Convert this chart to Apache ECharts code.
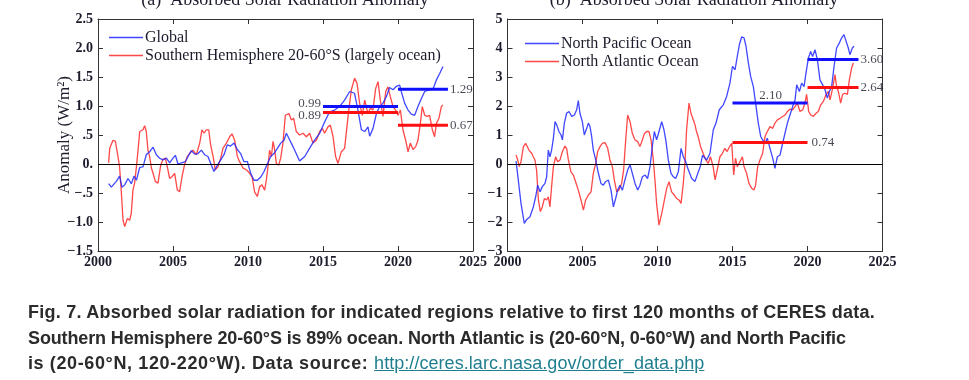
<!DOCTYPE html>
<html>
<head>
<meta charset="utf-8">
<script src="https://cdn.jsdelivr.net/npm/echarts@6/dist/echarts.min.js"></script>
<style>
  html, body { margin: 0; padding: 0; background: #ffffff; }
  #chart { position: absolute; left: 0; top: 0; width: 969px; height: 380px; }
  #caption {
    position: absolute; left: 28px; top: 300px; width: 940px;
    font-family: "Liberation Sans", Arial, sans-serif; font-weight: bold;
    font-size: 18px; line-height: 25.5px; color: #2b2b2b; white-space: nowrap;
  }
  #caption .l1 { letter-spacing: 0.25px; }
  #caption .l2 { letter-spacing: -0.13px; }
  #caption .l3 { letter-spacing: 0.62px; }
  #caption a { color: #1f7f8f; font-weight: normal; text-decoration: underline; letter-spacing: 0.05px; }
</style>
</head>
<body>
<div id="chart"></div>
<div id="caption"><span class="l1">Fig. 7. Absorbed solar radiation for indicated regions relative to first 120 months of CERES data.</span><br><span class="l2">Southern Hemisphere 20-60°S is 89% ocean. North Atlantic is (20-60°N, 0-60°W) and North Pacific</span><br><span class="l3">is (20-60°N, 120-220°W). Data source: </span><a href="#">http://ceres.larc.nasa.gov/order_data.php</a></div>
<script>
// ---------------- DATA ----------------
const panelTitles = ['(a)  Absorbed Solar Radiation Anomaly', '(b)  Absorbed Solar Radiation Anomaly'];
const seriesNamesA = ['Global', 'Southern Hemisphere 20-60°S (largely ocean)'];
const seriesNamesB = ['North Pacific Ocean', 'North Atlantic Ocean'];
const yAxisTitle = 'Anomaly (W/m²)';

const xTickLabels = ['2000', '2005', '2010', '2015', '2020', '2025'];
const aYTickLabels = ['\u22121.5', '\u22121.0', '\u2212.5', '0.', '.5', '1.0', '1.5', '2.0', '2.5'];
const bYTickLabels = ['\u22123', '\u22122', '\u22121', '0', '1', '2', '3', '4', '5'];

// Panel (a) Global
const globalYears = [2000.71,2000.89,2001.22,2001.44,2001.6,2001.78,2002.0,2002.22,2002.4,2002.56,2002.78,2003.0,2003.22,2003.44,2003.67,2003.89,2004.11,2004.33,2004.56,2004.78,2005.0,2005.16,2005.33,2005.56,2005.82,2006.0,2006.22,2006.44,2006.67,2006.89,2007.11,2007.33,2007.56,2007.73,2007.96,2008.18,2008.4,2008.62,2008.84,2009.07,2009.29,2009.51,2009.73,2009.96,2010.18,2010.4,2010.62,2010.84,2011.07,2011.29,2011.51,2011.73,2011.96,2012.18,2012.4,2012.56,2013.0,2013.44,2013.78,2014.1,2014.44,2014.78,2015.1,2015.44,2015.78,2016.1,2016.44,2016.78,2017.1,2017.33,2017.56,2017.78,2018.0,2018.11,2018.33,2018.56,2018.78,2019.0,2019.22,2019.44,2019.67,2019.89,2020.11,2020.22,2020.44,2020.67,2020.89,2021.11,2021.33,2021.56,2021.78,2022.11,2022.33,2022.56,2022.78,2023.0];
const globalVals = [-0.34,-0.40,-0.30,-0.21,-0.40,-0.36,-0.25,-0.34,-0.21,-0.28,-0.06,-0.05,0.16,0.21,0.29,0.16,0.10,0.07,0.10,0.02,0.10,0.15,0.0,0.02,0.04,0.13,0.23,0.17,0.18,0.24,0.16,0.13,-0.02,-0.13,-0.02,0.07,0.16,0.33,0.31,0.36,0.25,0.18,0.04,0.04,-0.16,-0.28,-0.28,-0.23,-0.13,0.0,0.13,0.18,0.27,0.36,0.41,0.53,0.30,0.05,0.13,0.27,0.41,0.53,0.72,0.90,0.93,0.99,1.10,1.25,1.22,0.93,0.59,0.56,0.64,0.48,0.61,0.87,0.99,1.05,1.16,1.32,1.28,1.34,1.36,1.25,1.05,0.93,0.86,0.84,0.99,1.13,1.25,1.28,1.29,1.45,1.56,1.68];

// Panel (a) Southern Hemisphere 20-60S
const shYears = [2000.71,2000.78,2001.0,2001.16,2001.33,2001.44,2001.56,2001.67,2001.78,2001.96,2002.11,2002.22,2002.33,2002.44,2002.56,2002.67,2002.78,2003.0,2003.11,2003.22,2003.33,2003.44,2003.56,2003.67,2003.82,2004.0,2004.18,2004.33,2004.49,2004.62,2004.78,2004.93,2005.11,2005.29,2005.44,2005.6,2005.78,2005.96,2006.11,2006.33,2006.56,2006.78,2006.93,2007.07,2007.22,2007.38,2007.51,2007.67,2007.82,2008.0,2008.18,2008.33,2008.56,2008.78,2008.93,2009.11,2009.29,2009.44,2009.67,2009.89,2010.11,2010.27,2010.44,2010.62,2010.78,2010.93,2011.11,2011.22,2011.33,2011.44,2011.56,2011.67,2011.78,2011.89,2012.04,2012.18,2012.33,2012.49,2012.73,2012.89,2013.04,2013.22,2013.44,2013.67,2013.89,2014.11,2014.33,2014.56,2014.78,2014.96,2015.11,2015.33,2015.49,2015.67,2015.84,2016.0,2016.22,2016.44,2016.67,2016.89,2017.11,2017.27,2017.44,2017.62,2017.78,2018.0,2018.16,2018.33,2018.51,2018.67,2018.82,2019.0,2019.18,2019.33,2019.49,2019.67,2019.84,2020.0,2020.16,2020.33,2020.51,2020.67,2020.82,2021.0,2021.18,2021.33,2021.49,2021.62,2021.78,2021.93,2022.11,2022.29,2022.44,2022.56,2022.73,2022.89,2023.0];
const shVals = [0.02,0.27,0.41,0.39,0.13,-0.05,-0.51,-0.97,-1.08,-0.94,-0.97,-0.85,-0.45,-0.33,-0.05,0.24,0.56,0.59,0.66,0.56,0.24,0.13,-0.07,-0.16,-0.30,-0.33,-0.02,0.08,0.10,-0.05,-0.25,-0.22,-0.16,-0.45,-0.48,-0.22,0.0,0.13,0.18,0.24,0.16,0.36,0.59,0.53,0.59,0.59,0.33,0.13,-0.10,-0.05,0.10,0.27,0.36,0.47,0.52,0.41,0.13,0.04,-0.07,-0.10,-0.16,-0.22,-0.48,-0.56,-0.39,-0.36,-0.45,-0.28,-0.05,0.24,0.13,0.39,0.24,0.01,-0.02,0.10,0.36,0.84,0.87,0.76,0.79,0.56,0.50,0.53,0.47,0.53,0.36,0.41,0.56,0.61,0.53,0.64,0.67,0.47,0.13,0.01,0.21,0.27,0.82,1.28,1.48,1.39,1.05,0.84,1.10,0.87,0.96,0.93,1.30,1.42,1.10,0.82,1.25,1.33,1.16,0.99,0.93,0.84,0.93,0.59,0.41,0.21,0.36,0.25,0.30,0.41,0.70,0.99,0.84,0.82,0.84,0.59,0.47,0.70,0.79,0.99,1.02];

// Panel (b) North Pacific
const pacYears = [2000.57,2000.72,2000.9,2001.12,2001.28,2001.5,2001.72,2001.88,2002.01,2002.17,2002.32,2002.5,2002.61,2002.72,2002.83,2002.94,2003.06,2003.17,2003.28,2003.43,2003.57,2003.66,2003.79,2003.94,2004.1,2004.28,2004.46,2004.61,2004.72,2004.83,2004.99,2005.12,2005.28,2005.39,2005.5,2005.61,2005.72,2005.88,2006.06,2006.23,2006.39,2006.54,2006.72,2006.9,2007.06,2007.21,2007.34,2007.5,2007.66,2007.83,2008.01,2008.17,2008.32,2008.5,2008.68,2008.83,2008.99,2009.17,2009.34,2009.5,2009.66,2009.79,2009.94,2010.1,2010.28,2010.43,2010.57,2010.72,2010.9,2011.06,2011.21,2011.39,2011.57,2011.72,2011.88,2012.06,2012.28,2012.5,2012.7,2012.85,2013.0,2013.28,2013.5,2013.72,2013.9,2014.12,2014.39,2014.61,2014.83,2015.0,2015.17,2015.32,2015.46,2015.61,2015.77,2015.9,2016.06,2016.21,2016.39,2016.54,2016.72,2016.88,2017.01,2017.17,2017.32,2017.5,2017.68,2017.83,2017.99,2018.17,2018.34,2018.5,2018.66,2018.83,2019.01,2019.17,2019.28,2019.46,2019.61,2019.77,2019.9,2020.06,2020.21,2020.34,2020.5,2020.66,2020.83,2021.01,2021.17,2021.32,2021.46,2021.61,2021.77,2021.94,2022.12,2022.28,2022.43,2022.56,2022.72,2022.83,2022.99,2023.1];
const pacVals = [0.1,-0.55,-1.36,-2.05,-1.91,-1.82,-1.48,-1.13,-0.73,-0.96,-0.78,-0.67,-0.44,0.48,0.25,0.48,0.89,1.46,1.35,1.12,1.0,0.83,1.41,1.75,1.81,1.64,1.69,1.87,2.19,1.75,1.46,1.0,1.23,1.41,1.29,0.95,0.48,0.14,-0.32,-0.67,-0.73,-0.61,-0.55,-0.9,-1.48,-1.19,-0.9,-0.73,-0.9,-0.55,-0.21,-0.03,-0.32,-0.67,-0.9,-0.73,-0.44,-0.38,-0.50,-0.09,0.62,1.12,0.83,1.12,1.46,1.18,0.77,0.14,-0.32,-0.44,-0.50,-0.27,0.54,0.25,0.08,-0.21,-0.5,-0.6,-0.3,-0.09,0.3,0.14,0.37,1.18,1.41,1.87,2.04,2.33,2.79,3.37,3.25,3.71,4.12,4.38,4.35,4.06,3.48,3.02,2.67,2.1,1.41,0.95,0.83,0.71,0.89,0.54,0.2,-0.15,0.25,0.31,0.71,1.06,1.41,1.69,1.98,2.21,2.73,2.5,2.79,2.67,3.14,3.65,3.88,3.71,3.94,3.6,2.9,2.73,2.56,2.27,2.5,2.67,3.37,4.0,4.17,4.35,4.46,4.46,4.0,3.77,4.0,4.06];

// Panel (b) North Atlantic
const atlYears = [2000.57,2000.68,2000.79,2000.9,2001.06,2001.21,2001.34,2001.43,2001.61,2001.72,2001.83,2001.94,2002.06,2002.19,2002.32,2002.46,2002.61,2002.72,2002.83,2002.94,2003.06,2003.21,2003.34,2003.5,2003.66,2003.83,2003.94,2004.06,2004.23,2004.39,2004.54,2004.72,2004.9,2005.06,2005.21,2005.39,2005.57,2005.72,2005.88,2006.01,2006.17,2006.32,2006.5,2006.68,2006.83,2006.99,2007.12,2007.28,2007.43,2007.61,2007.74,2007.88,2008.01,2008.17,2008.32,2008.5,2008.68,2008.83,2008.99,2009.12,2009.28,2009.43,2009.57,2009.72,2009.83,2009.94,2010.1,2010.28,2010.46,2010.61,2010.77,2010.94,2011.12,2011.28,2011.43,2011.57,2011.72,2011.83,2011.94,2012.1,2012.23,2012.39,2012.5,2012.6,2012.71,2012.87,2013.04,2013.22,2013.38,2013.53,2013.71,2013.84,2013.98,2014.16,2014.33,2014.49,2014.64,2014.83,2014.95,2015.08,2015.2,2015.32,2015.5,2015.66,2015.77,2015.94,2016.1,2016.28,2016.43,2016.54,2016.68,2016.83,2017.01,2017.17,2017.32,2017.5,2017.68,2017.83,2017.99,2018.17,2018.34,2018.5,2018.66,2018.83,2019.01,2019.17,2019.32,2019.5,2019.68,2019.83,2019.94,2020.08,2020.21,2020.39,2020.57,2020.72,2020.88,2021.06,2021.23,2021.39,2021.5,2021.68,2021.83,2021.94,2022.06,2022.21,2022.34,2022.5,2022.66,2022.79,2022.94,2023.06];
const atlVals = [0.31,0.14,-0.09,0.08,0.6,0.71,0.71,0.48,0.37,0.25,0.14,-0.21,-1.24,-1.64,-1.48,-1.19,-1.24,-1.13,-1.48,-0.78,-0.09,0.25,0.08,0.14,0.43,0.62,0.54,0.14,-0.27,-0.38,-0.61,-0.9,-1.24,-1.59,-1.24,-1.07,-0.96,-0.32,0.02,0.43,0.6,0.71,0.74,0.54,0.14,-0.09,-0.55,-0.96,-0.9,-0.67,-0.21,0.83,1.69,1.46,1.06,0.83,0.77,0.6,0.83,1.04,1.12,1.12,0.83,0.14,-0.55,-1.36,-2.11,-1.71,-1.24,-0.84,-0.61,-0.96,-1.07,-1.19,-1.24,-1.36,-0.67,0.02,1.18,2.1,1.75,1.52,1.35,1.12,0.95,0.6,0.37,0.14,0.02,0.25,-0.09,-0.55,-0.21,0.25,0.37,0.54,0.43,0.62,0.71,-0.38,0.2,-0.09,0.08,0.25,-0.09,-0.32,-0.67,-0.84,-0.9,-0.73,-0.09,0.14,0.37,0.95,1.12,1.29,1.23,1.41,1.52,1.58,1.64,1.69,1.81,1.89,1.87,1.98,2.1,1.81,1.87,2.1,2.4,1.81,1.69,1.64,1.75,1.81,2.04,2.16,2.39,2.5,2.21,2.62,3.08,2.67,2.5,2.1,2.4,2.44,2.4,2.9,3.31,3.48];

// Period means (horizontal bars)
const aPeriodStarts = [2015, 2020];
const aPeriodEnds = [2020, 2023.33];
const globalMeans = [0.99, 1.29];
const shMeans = [0.89, 0.67];
const bPeriodStarts = [2015, 2020];
const bPeriodEnds = [2020, 2023.4];
const pacMeans = [2.10, 3.60];
const atlMeans = [0.74, 2.64];

// ---------------- STYLE ----------------
const BLUE = 'rgba(30,40,255,0.85)';
const RED = 'rgba(255,40,40,0.85)';
const MBLUE = '#1010ff';
const MRED = '#ff1010';
const SERIF = '"Liberation Serif", "Times New Roman", serif';
const TXT = '#1c1c2c';

function pairs(xs, ys) { return xs.map((x, i) => [x, ys[i]]); }

function xAxes(gi) {
  const base = {
    type: 'value', gridIndex: gi, min: 2000, max: 2025, interval: 5,
    splitLine: { show: false },
    axisLine: { show: true, onZero: false, lineStyle: { color: '#333', width: 1 } },
    axisTick: { show: true, inside: true, length: 5, lineStyle: { color: '#333' } }
  };
  return [
    Object.assign({}, base, {
      position: 'bottom',
      axisLabel: { show: true, margin: 4, fontFamily: SERIF, fontSize: 14, color: TXT, fontWeight: 'bold',
        formatter: v => xTickLabels[Math.round((v - 2000) / 5)] }
    }),
    Object.assign({}, base, { position: 'top', axisLabel: { show: false } })
  ];
}

function yAxes(gi, min, max, step, labels, name) {
  const base = {
    type: 'value', gridIndex: gi, min: min, max: max, interval: step,
    splitLine: { show: false },
    axisLine: { show: true, onZero: false, lineStyle: { color: '#333', width: 1 } },
    axisTick: { show: true, inside: true, length: 5, lineStyle: { color: '#333' } }
  };
  const left = Object.assign({}, base, {
    position: 'left',
    axisLabel: { show: true, margin: 5, fontFamily: SERIF, fontSize: 14, color: TXT, fontWeight: 'bold',
      formatter: v => labels[Math.round((v - min) / step)] }
  });
  if (name) {
    left.name = name;
    left.nameLocation = 'middle';
    left.nameGap = 25;
    left.nameMoveOverlap = false;
    left.nameTextStyle = { fontFamily: SERIF, fontSize: 17, color: TXT };
  }
  return [left, Object.assign({}, base, { position: 'right', axisLabel: { show: false } })];
}

function dataLine(name, xs, ys, color, xi, yi, withZero) {
  const s = {
    name: name, type: 'line', xAxisIndex: xi, yAxisIndex: yi,
    data: pairs(xs, ys), showSymbol: false, symbol: 'none',
    lineStyle: { color: color, width: 1.3 }, itemStyle: { color: color },
    z: 3, animation: false
  };
  if (withZero) {
    s.markLine = {
      silent: true, symbol: 'none', label: { show: false },
      lineStyle: { color: '#000', width: 1.2, type: 'solid' },
      data: [{ yAxis: 0 }]
    };
  }
  return s;
}

function meanLine(x0, x1, v, color, xi, yi) {
  return {
    type: 'line', xAxisIndex: xi, yAxisIndex: yi,
    data: [[x0, v], [x1, v]], showSymbol: false, symbol: 'none',
    lineStyle: { color: color, width: 3 }, z: 5, animation: false, silent: true
  };
}

function meanLabel(x, v, xi, yi, position, offset) {
  return {
    type: 'scatter', xAxisIndex: xi, yAxisIndex: yi,
    data: [[x, v]], symbolSize: 0, z: 6, animation: false, silent: true,
    label: { show: true, position: position, distance: 2, offset: offset,
      fontFamily: SERIF, fontSize: 13, color: TXT,
      formatter: p => p.value[1].toFixed(2) }
  };
}

const series = [
  dataLine(seriesNamesA[1], shYears, shVals, RED, 0, 0, true),
  dataLine(seriesNamesA[0], globalYears, globalVals, BLUE, 0, 0, false),
  dataLine(seriesNamesB[1], atlYears, atlVals, RED, 2, 2, true),
  dataLine(seriesNamesB[0], pacYears, pacVals, BLUE, 2, 2, false),
  // panel a means
  meanLine(aPeriodStarts[0], aPeriodEnds[0], globalMeans[0], MBLUE, 0, 0),
  meanLine(aPeriodStarts[0], aPeriodEnds[0], shMeans[0], MRED, 0, 0),
  meanLine(aPeriodStarts[1], aPeriodEnds[1], globalMeans[1], MBLUE, 0, 0),
  meanLine(aPeriodStarts[1], aPeriodEnds[1], shMeans[1], MRED, 0, 0),
  meanLabel(aPeriodStarts[0], globalMeans[0], 0, 0, 'left', [0, -3]),
  meanLabel(aPeriodStarts[0], shMeans[0], 0, 0, 'left', [0, 3]),
  meanLabel(aPeriodEnds[1], globalMeans[1], 0, 0, 'right', [0, 0]),
  meanLabel(aPeriodEnds[1], shMeans[1], 0, 0, 'right', [0, 0]),
  // panel b means
  meanLine(bPeriodStarts[0], bPeriodEnds[0], pacMeans[0], MBLUE, 2, 2),
  meanLine(bPeriodStarts[0], bPeriodEnds[0], atlMeans[0], MRED, 2, 2),
  meanLine(bPeriodStarts[1], bPeriodEnds[1], pacMeans[1], MBLUE, 2, 2),
  meanLine(bPeriodStarts[1], bPeriodEnds[1], atlMeans[1], MRED, 2, 2),
  meanLabel(bPeriodStarts[0], pacMeans[0], 2, 2, 'top', [38, 1]),
  meanLabel(bPeriodEnds[0], atlMeans[0], 2, 2, 'right', [2, 0]),
  meanLabel(bPeriodEnds[1], pacMeans[1], 2, 2, 'right', [0, 0]),
  meanLabel(bPeriodEnds[1], atlMeans[1], 2, 2, 'right', [0, 0])
];

const legendBase = {
  orient: 'vertical', icon: 'rect', itemWidth: 34, itemHeight: 1.5, itemGap: 1,
  selectedMode: false, padding: 0,
  textStyle: { fontFamily: SERIF, fontSize: 16, color: TXT, padding: [0, 0, 0, -3], lineHeight: 17 }
};

const option = {
  animation: false,
  backgroundColor: '#ffffff',
  grid: [
    { left: 98, top: 19, width: 375, height: 232 },
    { left: 507.5, top: 19, width: 375, height: 232 }
  ],
  xAxis: xAxes(0).concat(xAxes(1)),
  yAxis: yAxes(0, -1.5, 2.5, 0.5, aYTickLabels, yAxisTitle).concat(yAxes(1, -3, 5, 1, bYTickLabels, null)),
  legend: [
    Object.assign({}, legendBase, { left: 109, top: 29, data: [seriesNamesA[0], seriesNamesA[1]] }),
    Object.assign({}, legendBase, { left: 525, top: 35, data: [seriesNamesB[0], seriesNamesB[1]] })
  ],
  graphic: [
    { type: 'text', x: 285, y: -9, style: { text: panelTitles[0], textAlign: 'center', font: '18px ' + SERIF, fill: TXT } },
    { type: 'text', x: 694, y: -9, style: { text: panelTitles[1], textAlign: 'center', font: '18px ' + SERIF, fill: TXT } }
  ],
  series: series
};

const chart = echarts.init(document.getElementById('chart'), null, { renderer: 'canvas' });
chart.setOption(option);
</script>
</body>
</html>
